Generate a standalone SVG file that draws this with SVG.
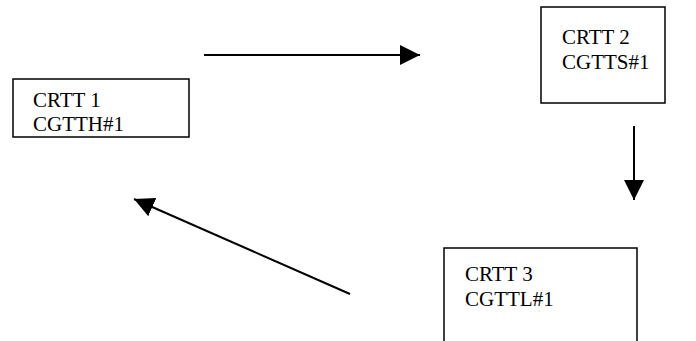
<svg xmlns="http://www.w3.org/2000/svg" width="696" height="341" viewBox="0 0 696 341">
  <style>
    .box { fill: #ffffff; stroke: #000000; stroke-width: 1.5; }
    .lbl { font-family: "Liberation Serif", "Times New Roman", serif; font-size: 21px; fill: #000000; }
    .edge { stroke: #000000; stroke-width: 2; fill: none; marker-end: url(#head); }
  </style>
  <defs>
    <marker id="head" markerUnits="userSpaceOnUse" viewBox="0 0 20 20" refX="20" refY="10" markerWidth="20" markerHeight="20" orient="auto">
      <path d="M0,0 L20,10 L0,20 Z" fill="#000000"/>
    </marker>
  </defs>
  <rect width="696" height="341" fill="#ffffff"/>

  <g id="crtt1">
    <rect class="box" x="13" y="79" width="176" height="58"/>
    <text class="lbl" x="33" y="107">CRTT 1</text>
    <text class="lbl" x="33" y="131">CGTTH#1</text>
  </g>

  <g id="crtt2">
    <rect class="box" x="541" y="7" width="124" height="96"/>
    <text class="lbl" x="562" y="44">CRTT 2</text>
    <text class="lbl" x="562" y="69">CGTTS#1</text>
  </g>

  <g id="crtt3">
    <rect class="box" x="444" y="248" width="193" height="110"/>
    <text class="lbl" x="465" y="281">CRTT 3</text>
    <text class="lbl" x="465" y="306">CGTTL#1</text>
  </g>

  <g id="connectors">
    <line class="edge" x1="204" y1="55" x2="420" y2="55"/>
    <line class="edge" x1="634" y1="126" x2="634" y2="200"/>
    <line class="edge" x1="350" y1="294" x2="134" y2="199"/>
  </g>
</svg>
